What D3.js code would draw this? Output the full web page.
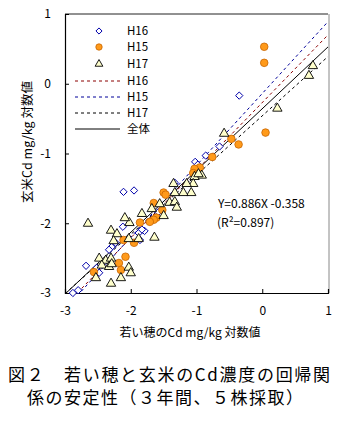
<!DOCTYPE html>
<html><head><meta charset="utf-8">
<script src="https://cdn.jsdelivr.net/npm/d3@7"></script>
<style>
body{margin:0;background:#fff;}
svg{display:block;}
text{font-family:"Noto Sans CJK JP","DejaVu Sans",sans-serif;fill:#000;}
</style></head>
<body>
<svg id="c" width="341" height="426"></svg>
<script>
// ---- data (log10 values) ----
const h16X = [-0.35,-0.65,-0.86,-1.02,-0.98,-1.33,-1.95,-2.11,-2.12,-1.88,-1.79,-2.23,-2.29,-2.33,-2.68,-2.52,-2.48,-2.80,-2.88,-1.83,-1.86,-1.68,-1.58];
const h16Y = [-0.17,-0.90,-1.03,-1.12,-1.16,-1.42,-1.53,-1.55,-2.05,-2.14,-2.11,-2.28,-2.34,-2.38,-2.61,-2.64,-2.71,-2.96,-3.00,-2.09,-2.24,-1.95,-1.84];
const h15X = [0.03,0.03,0.05,-0.47,-0.36,-0.76,-0.95,-1.03,-1.05,-1.00,-1.50,-1.47,-1.65,-1.52,-1.61,-1.65,-1.71,-1.86,-2.11,-1.95,-2.08,-2.18,-2.15,-2.56];
const h15Y = [0.53,0.30,-0.70,-0.79,-0.87,-1.05,-1.20,-1.22,-1.28,-1.30,-1.56,-1.59,-1.71,-1.81,-1.92,-1.95,-1.98,-1.99,-2.24,-2.28,-2.48,-2.57,-2.67,-2.70];
const h17X = [0.77,0.71,0.23,-0.58,-0.92,-1.03,-0.97,-1.05,-1.15,-1.08,-1.20,-1.33,-1.41,-1.33,-1.56,-1.30,-1.68,-1.50,-1.83,-2.02,-2.09,-2.65,-1.64,-2.30,-2.21,-2.26,-2.03,-1.88,-2.48,-2.38,-2.30,-2.44,-2.33,-2.29,-2.03,-2.00,-2.53,-2.15,-2.30,-1.35];
const h17Y = [0.27,0.13,-0.34,-0.70,-1.30,-1.32,-1.28,-1.42,-1.42,-1.55,-1.55,-1.55,-1.69,-1.68,-1.71,-1.76,-1.78,-1.88,-1.85,-1.98,-1.91,-1.99,-2.19,-2.09,-2.14,-2.24,-2.21,-2.21,-2.49,-2.52,-2.49,-2.59,-2.61,-2.57,-2.62,-2.70,-2.77,-2.77,-2.85,-1.42];
// regression lines: [slope, intercept]
const lineNames = ["H16","H15","H17","全体"];
const lineSlope = [0.97, 1.03, 0.85, 0.886];
const lineIntercept = [-0.27, -0.14, -0.46, -0.358];
const xTicks = [-3,-2,-1,0,1];
const yTicks = [-3,-2,-1,0,1];
const xTitle = "若い穂のCd mg/kg 対数値";
const yTitle = "玄米Cd mg/kg 対数値";
const eqText = "Y=0.886X -0.358";
const r2Text = "(R²=0.897)";
const caption1 = "図２　若い穂と玄米のCd濃度の回帰関";
const caption2 = "係の安定性（３年間、５株採取）";

// ---- drawing ----
const svg = d3.select("#c");
const x = d3.scaleLinear().domain([-3,1]).range([65,328]);
const y = d3.scaleLinear().domain([-3,1]).range([293,14]);
const latin = "'Liberation Sans',Arial,sans-serif";

svg.append("defs").append("clipPath").attr("id","pa")
  .append("rect").attr("x",65).attr("y",14).attr("width",263).attr("height",279);

const lineStyle = [
  {stroke:"#8b0000", dash:"3,3"},
  {stroke:"#000099", dash:"3,3"},
  {stroke:"#000000", dash:"3,3"},
  {stroke:"#000000", dash:null}
];
const lg = svg.append("g").attr("clip-path","url(#pa)");
lineNames.forEach((n,i)=>{
  const f = v => lineSlope[i]*v + lineIntercept[i];
  lg.append("line")
    .attr("x1",x(-3)).attr("y1",y(f(-3)))
    .attr("x2",x(1)).attr("y2",y(f(1)))
    .attr("stroke",lineStyle[i].stroke).attr("stroke-width",1)
    .attr("stroke-dasharray",lineStyle[i].dash);
});

// frame
svg.append("line").attr("x1",65).attr("x2",328).attr("y1",14).attr("y2",14).attr("stroke","#222");
svg.append("line").attr("x1",329).attr("x2",329).attr("y1",14).attr("y2",293).attr("stroke","#888");

// axes
const fmt = d => String(d).replace("−","-");
const xa = svg.append("g").attr("transform","translate(0,293)")
  .call(d3.axisBottom(x).tickValues(xTicks).tickSize(-4).tickPadding(13).tickFormat(fmt));
const ya = svg.append("g").attr("transform","translate(65,0)")
  .call(d3.axisLeft(y).tickValues(yTicks).tickSize(-4).tickPadding(14).tickFormat(fmt));
[xa,ya].forEach(a=>{
  a.select(".domain").attr("stroke","#000").attr("stroke-width",1.2);
  a.selectAll(".tick line").attr("stroke","#000");
  a.selectAll("text").attr("font-size",12).attr("font-family",latin);
});

// markers
const pg = svg.append("g");
const diamond = d3.symbol().type(d3.symbolDiamond2).size(34);
const tri = d3.symbol().type(d3.symbolTriangle).size(38);
h16X.forEach((v,i)=>{
  pg.append("path").attr("d",diamond).attr("transform",`translate(${x(v)},${y(h16Y[i])})`)
    .attr("fill","#fff").attr("stroke","#0000aa").attr("stroke-width",1);
});
h15X.forEach((v,i)=>{
  pg.append("circle").attr("cx",x(v)).attr("cy",y(h15Y[i])).attr("r",3.8)
    .attr("fill","#ff9a1a").attr("stroke","#c86400").attr("stroke-width",0.8);
});
h17X.forEach((v,i)=>{
  pg.append("path").attr("d",tri).attr("transform",`translate(${x(v)},${y(h17Y[i])+1})`)
    .attr("fill","#ffffcc").attr("stroke","#000").attr("stroke-width",0.9);
});

// legend
const leg = svg.append("g");
leg.append("path").attr("d",d3.symbol().type(d3.symbolDiamond2).size(24)).attr("transform","translate(99,31)")
  .attr("fill","#fff").attr("stroke","#0000aa");
leg.append("circle").attr("cx",99).attr("cy",47).attr("r",3.2).attr("fill","#ff9a1a").attr("stroke","#c86400").attr("stroke-width",0.8);
leg.append("path").attr("d",d3.symbol().type(d3.symbolTriangle).size(26)).attr("transform","translate(99,64)")
  .attr("fill","#ffffcc").attr("stroke","#000").attr("stroke-width",0.9);
[["H16",31],["H15",47],["H17",64]].forEach(([t,yy])=>{
  leg.append("text").attr("x",127).attr("y",yy).attr("dy","0.36em").attr("font-size",11.5).attr("font-family",latin).text(t);
});
lineNames.forEach((n,i)=>{
  const yy = [81,97,113,129][i];
  leg.append("line").attr("x1",75).attr("x2",120).attr("y1",yy).attr("y2",yy)
    .attr("stroke",lineStyle[i].stroke).attr("stroke-dasharray",lineStyle[i].dash);
  const t = leg.append("text").attr("x",127).attr("y",yy).attr("dy","0.36em").attr("font-size",11.5).text(n);
  if (i<3) t.attr("font-family",latin);
});

// equation
svg.append("text").attr("x",218).attr("y",204).attr("dy","0.36em").attr("font-size",12).attr("font-family",latin).text(eqText);
svg.append("text").attr("x",217).attr("y",223).attr("dy","0.36em").attr("font-size",12).attr("font-family",latin).text(r2Text);

// titles
svg.append("text").attr("x",190).attr("y",333).attr("dy","0.36em").attr("text-anchor","middle").attr("font-size",12).text(xTitle);
svg.append("text").attr("transform","translate(27,142) rotate(-90)").attr("dy","0.36em").attr("text-anchor","middle").attr("font-size",12.5).text(yTitle);

// caption
svg.append("text").attr("x",8).attr("y",375).attr("dy","0.36em").attr("font-size",17)
  .attr("textLength",322).attr("lengthAdjust","spacing").text(caption1);
svg.append("text").attr("x",27).attr("y",398).attr("dy","0.36em").attr("font-size",17)
  .attr("textLength",276).attr("lengthAdjust","spacing").text(caption2);
</script>
</body></html>
